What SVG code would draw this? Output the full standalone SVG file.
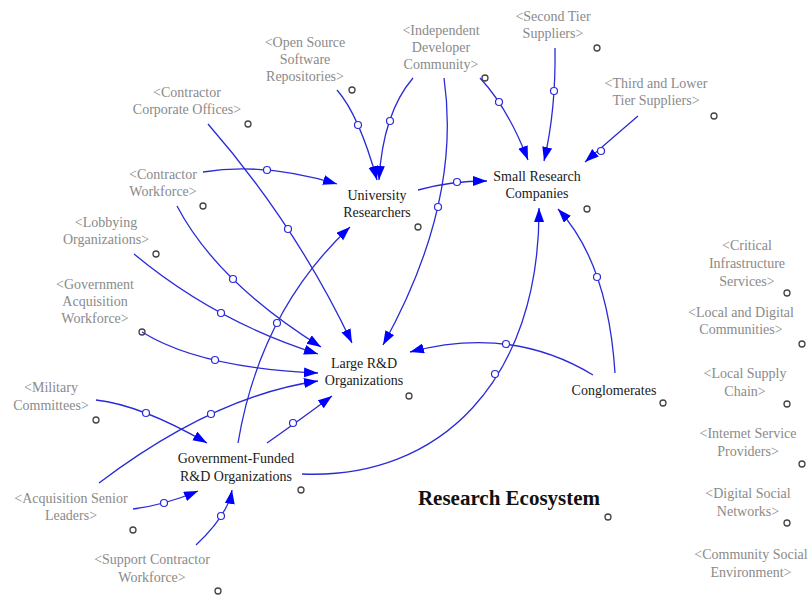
<svg xmlns="http://www.w3.org/2000/svg" width="809" height="595" viewBox="0 0 809 595">
<style>
.g{font-family:"Liberation Serif","Times New Roman",serif;font-size:14px;fill:#8a8a8a;text-anchor:middle}
.n{font-family:"Liberation Serif","Times New Roman",serif;font-size:14px;fill:#1a1a1a;text-anchor:middle}
.t{font-family:"Liberation Serif","Times New Roman",serif;font-size:21px;font-weight:bold;fill:#111;text-anchor:middle}
.c{fill:none;stroke:#444;stroke-width:1.3}
.l{fill:none;stroke:#2a2ad8;stroke-width:1.3;marker-end:url(#ah)}
.h{fill:#fff;stroke:#2a2ad8;stroke-width:1.2}
</style>
<defs>
<marker id="ah" markerUnits="userSpaceOnUse" markerWidth="15" markerHeight="11" refX="14" refY="5" orient="auto">
<path d="M0,0 L14,5 L0,10 z" fill="#0000ff"/>
</marker>
</defs>
<rect width="809" height="595" fill="#fff"/>
<g id="connectors">
<path class="l" d="M337,90 Q359,115 377,180"/>
<path class="l" d="M413,78 Q383,113 379,180"/>
<path class="l" d="M444,78 Q462,203 383,345"/>
<path class="l" d="M480,78 Q508,108 528,160"/>
<path class="l" d="M555,48 Q556,110 544,161"/>
<path class="l" d="M638,116 Q610,140 585,162"/>
<path class="l" d="M418,190 Q450,181 487,181"/>
<path class="l" d="M208,124 Q296,225 352,343"/>
<path class="l" d="M203,172 Q264,162 337,184"/>
<path class="l" d="M177,206 Q217,282 321,347"/>
<path class="l" d="M134,254 Q216,322 318,354"/>
<path class="l" d="M142,332 Q200,368 318,373"/>
<path class="l" d="M99,483 Q214,396 318,381"/>
<path class="l" d="M238,443 Q260,311 350,227"/>
<path class="l" d="M267,443 Q297,422 332,396"/>
<path class="l" d="M302,474 C440,480 540,380 539,208"/>
<path class="l" d="M593,375 Q511,325 410,352"/>
<path class="l" d="M615,373 Q608,263 558,209"/>
<path class="l" d="M96,400 Q141,405 207,443"/>
<path class="l" d="M133,509 Q165,505 198,491"/>
<path class="l" d="M196,545 Q228,515 232,490"/>
<circle class="h" cx="358" cy="125" r="3.5"/>
<circle class="h" cx="390" cy="121" r="3.5"/>
<circle class="h" cx="438" cy="207" r="3.5"/>
<circle class="h" cx="499" cy="102" r="3.5"/>
<circle class="h" cx="554" cy="91" r="3.5"/>
<circle class="h" cx="601" cy="151" r="3.5"/>
<circle class="h" cx="457" cy="182" r="3.5"/>
<circle class="h" cx="288" cy="229" r="3.5"/>
<circle class="h" cx="267" cy="170" r="3.5"/>
<circle class="h" cx="233" cy="279" r="3.5"/>
<circle class="h" cx="221" cy="313" r="3.5"/>
<circle class="h" cx="215" cy="360" r="3.5"/>
<circle class="h" cx="211" cy="414" r="3.5"/>
<circle class="h" cx="277" cy="323" r="3.5"/>
<circle class="h" cx="293" cy="423" r="3.5"/>
<circle class="h" cx="495" cy="374" r="3.5"/>
<circle class="h" cx="506" cy="344" r="3.5"/>
<circle class="h" cx="597" cy="277" r="3.5"/>
<circle class="h" cx="146" cy="413" r="3.5"/>
<circle class="h" cx="164" cy="503" r="3.5"/>
<circle class="h" cx="221" cy="516" r="3.5"/>
</g>
<g id="open-source"><text class="g" x="305" y="47">&lt;Open Source</text><text class="g" x="305" y="64">Software</text><text class="g" x="305" y="81">Repositories&gt;</text><circle class="c" cx="352" cy="90" r="3"/></g>
<g id="contractor-corporate"><text class="g" x="187" y="97">&lt;Contractor</text><text class="g" x="187" y="114">Corporate Offices&gt;</text><circle class="c" cx="248" cy="124" r="3"/></g>
<g id="independent-dev"><text class="g" x="441" y="35">&lt;Independent</text><text class="g" x="441" y="52">Developer</text><text class="g" x="441" y="69">Community&gt;</text><circle class="c" cx="485" cy="78" r="3"/></g>
<g id="second-tier"><text class="g" x="553" y="21">&lt;Second Tier</text><text class="g" x="553" y="38">Suppliers&gt;</text><circle class="c" cx="597" cy="48" r="3"/></g>
<g id="third-tier"><text class="g" x="656" y="88">&lt;Third and Lower</text><text class="g" x="656" y="105">Tier Suppliers&gt;</text><circle class="c" cx="714" cy="116" r="3"/></g>
<g id="small-research"><text class="n" x="537" y="181">Small Research</text><text class="n" x="537" y="198">Companies</text><circle class="c" cx="587" cy="209" r="3"/></g>
<g id="university"><text class="n" x="377" y="200">University</text><text class="n" x="377" y="217">Researchers</text><circle class="c" cx="418" cy="227" r="3"/></g>
<g id="large-rd"><text class="n" x="364" y="368">Large R&amp;D</text><text class="n" x="364" y="385">Organizations</text><circle class="c" cx="409" cy="396" r="3"/></g>
<g id="conglomerates"><text class="n" x="614" y="395">Conglomerates</text><circle class="c" cx="663" cy="403" r="3"/></g>
<g id="title"><text class="t" x="509" y="505">Research Ecosystem</text><circle class="c" cx="608" cy="517" r="3"/></g>
<g id="gov-funded"><text class="n" x="236" y="463">Government-Funded</text><text class="n" x="236" y="481">R&amp;D Organizations</text><circle class="c" cx="301" cy="490" r="3"/></g>
<g id="military"><text class="g" x="51" y="392">&lt;Military</text><text class="g" x="51" y="410">Committees&gt;</text><circle class="c" cx="96" cy="420" r="3"/></g>
<g id="acq-senior"><text class="g" x="71" y="503">&lt;Acquisition Senior</text><text class="g" x="71" y="520">Leaders&gt;</text><circle class="c" cx="133" cy="530" r="3"/></g>
<g id="support-contractor"><text class="g" x="152" y="564">&lt;Support Contractor</text><text class="g" x="152" y="582">Workforce&gt;</text><circle class="c" cx="218" cy="591" r="3"/></g>
<g id="contractor-workforce"><text class="g" x="163" y="179">&lt;Contractor</text><text class="g" x="163" y="196">Workforce&gt;</text><circle class="c" cx="203" cy="206" r="3"/></g>
<g id="lobbying"><text class="g" x="106" y="227">&lt;Lobbying</text><text class="g" x="106" y="244">Organizations&gt;</text><circle class="c" cx="156" cy="254" r="3"/></g>
<g id="gov-acq-workforce"><text class="g" x="95" y="289">&lt;Government</text><text class="g" x="95" y="306">Acquisition</text><text class="g" x="95" y="323">Workforce&gt;</text><circle class="c" cx="142" cy="332" r="3"/></g>
<g id="critical-infra"><text class="g" x="747" y="250">&lt;Critical</text><text class="g" x="747" y="268">Infrastructure</text><text class="g" x="747" y="286">Services&gt;</text><circle class="c" cx="787" cy="293" r="3"/></g>
<g id="local-digital"><text class="g" x="741" y="317">&lt;Local and Digital</text><text class="g" x="741" y="334">Communities&gt;</text><circle class="c" cx="802" cy="344" r="3"/></g>
<g id="local-supply"><text class="g" x="745" y="378">&lt;Local Supply</text><text class="g" x="745" y="396">Chain&gt;</text><circle class="c" cx="787" cy="404" r="3"/></g>
<g id="isp"><text class="g" x="748" y="438">&lt;Internet Service</text><text class="g" x="748" y="456">Providers&gt;</text><circle class="c" cx="802" cy="464" r="3"/></g>
<g id="digital-social"><text class="g" x="748" y="498">&lt;Digital Social</text><text class="g" x="748" y="516">Networks&gt;</text><circle class="c" cx="787" cy="523" r="3"/></g>
<g id="community-social"><text class="g" x="751" y="559">&lt;Community Social</text><text class="g" x="751" y="577">Environment&gt;</text></g>
</svg>
